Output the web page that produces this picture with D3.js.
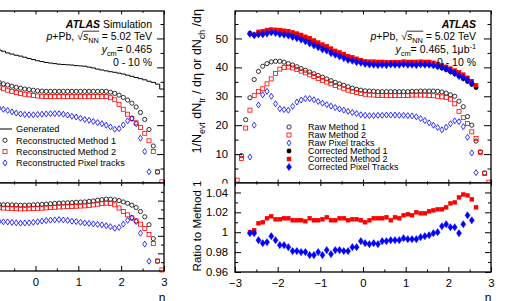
<!DOCTYPE html>
<html>
<head>
<meta charset="utf-8">
<script src="https://cdn.jsdelivr.net/npm/d3@7"></script>
<style>
body { margin: 0; background: #fff; }
svg { display: block; font-family: "Liberation Sans", Arial, Helvetica, sans-serif; }
</style>
</head>
<body>
<svg id="chart" width="506" height="301"></svg>
<script>
// eta bin centres (bin width 0.1)
var etaBins = [-2.95,-2.85,-2.75,-2.65,-2.55,-2.45,-2.35,-2.25,-2.15,-2.05,
  -1.95,-1.85,-1.75,-1.65,-1.55,-1.45,-1.35,-1.25,-1.15,-1.05,
  -0.95,-0.85,-0.75,-0.65,-0.55,-0.45,-0.35,-0.25,-0.15,-0.05,
  0.05,0.15,0.25,0.35,0.45,0.55,0.65,0.75,0.85,0.95,
  1.05,1.15,1.25,1.35,1.45,1.55,1.65,1.75,1.85,1.95,
  2.05,2.15,2.25,2.35,2.45,2.55,2.65,2.75,2.85,2.95];

// ---- right pad: data ----
var rawM1 = [null,9.5,21.9,29.5,35.8,38.6,40.4,41.3,41.9,42.1,
  42.1,41.8,41.3,40.8,40.2,39.6,39.0,38.4,37.8,37.2,
  36.6,36.0,35.4,34.8,34.3,33.8,33.3,32.8,32.4,32.1,
  31.9,31.8,31.7,31.6,31.6,31.6,31.6,31.6,31.6,31.6,
  31.6,31.7,31.7,31.8,31.8,31.8,31.8,31.7,31.5,31.1,
  30.5,30.0,28.3,26.4,23.0,20.0,14.5,10.8,3.5,null];
var rawM2 = [1.0,8.5,19.0,25.2,30.2,31.6,32.6,34.3,36.0,37.9,
  39.4,40.0,40.1,39.8,39.3,38.7,38.1,37.4,36.8,36.1,
  35.5,34.9,34.3,33.7,33.2,32.6,32.1,31.7,31.3,31.0,
  30.7,30.5,30.4,30.3,30.3,30.2,30.3,30.2,30.3,30.3,
  30.3,30.4,30.4,30.4,30.4,30.3,30.2,30.0,29.8,29.6,
  29.0,27.4,24.8,22.6,20.6,17.7,15.4,10.6,3.3,0.3];
var rawPix = [null,null,null,9.0,20.0,27.0,30.5,31.7,30.0,27.4,
  25.7,25.4,25.2,26.5,28.0,28.7,29.2,29.2,28.8,28.2,
  27.6,27.1,26.6,26.1,25.6,25.2,24.8,24.4,24.0,23.6,
  23.4,23.3,23.3,23.4,23.4,23.5,23.5,23.5,23.4,23.4,
  23.3,23.2,22.9,22.3,21.6,20.8,20.0,19.2,18.4,19.3,
  20.5,21.5,21.2,19.5,15.8,10.4,3.6,null,null,null];
var corrM1 = [null,null,null,51.7,51.2,51.8,52.0,52.2,52.3,52.3,
  52.2,52.0,51.8,51.5,51.1,50.6,50.0,49.4,48.7,48.0,
  47.3,46.6,45.9,45.2,44.6,44.0,43.4,42.9,42.4,42.0,
  41.7,41.5,41.4,41.3,41.3,41.2,41.3,41.2,41.2,41.3,
  41.2,41.2,41.1,41.2,41.1,41.0,40.7,40.3,39.8,39.2,
  38.5,37.8,37.0,36.1,35.1,34.1,33.0,null,null,null];
var corrM2 = [null,null,null,51.7,51.3,52.3,52.5,52.9,53.1,53.0,
  52.9,52.7,52.5,52.1,51.7,51.2,50.6,50.1,49.3,48.6,
  47.9,47.3,46.5,45.7,45.2,44.6,43.9,43.5,43.0,42.5,
  42.1,42.0,42.0,41.9,41.9,41.8,41.8,41.8,41.8,42.0,
  41.9,41.9,41.9,42.0,41.9,41.9,41.6,41.2,40.7,40.2,
  39.6,38.9,38.3,37.5,36.4,35.2,33.8,null,null,null];
var corrPix = [null,null,null,51.6,51.1,51.4,51.4,51.7,52.1,51.9,
  51.5,51.3,51.0,50.5,50.1,49.6,49.0,48.3,47.6,47.0,
  46.2,45.8,44.9,44.4,43.8,43.2,42.6,42.3,41.8,41.6,
  41.2,41.0,40.9,40.8,40.9,40.8,41.0,40.9,40.9,41.1,
  40.9,40.9,40.8,41.0,40.9,40.9,40.7,40.3,40.0,39.5,
  38.7,38.0,37.0,36.4,35.7,34.5,null,null,null,null];
var ratioM2 = [null,null,null,1.000,1.002,1.009,1.010,1.014,1.016,1.013,
  1.013,1.014,1.014,1.012,1.012,1.012,1.011,1.014,1.012,1.012,
  1.013,1.015,1.012,1.012,1.014,1.014,1.012,1.013,1.013,1.012,
  1.010,1.012,1.014,1.014,1.014,1.015,1.012,1.015,1.014,1.017,
  1.018,1.017,1.020,1.019,1.019,1.021,1.022,1.023,1.023,1.025,
  1.029,1.030,1.035,1.038,1.037,1.033,1.025,null,null,null];
var ratioPix = [null,null,null,0.999,0.999,0.992,0.989,0.990,0.996,0.992,
  0.987,0.987,0.985,0.981,0.981,0.980,0.980,0.977,0.977,0.980,
  0.977,0.982,0.978,0.982,0.982,0.981,0.981,0.985,0.985,0.991,
  0.989,0.988,0.989,0.988,0.991,0.991,0.992,0.992,0.992,0.994,
  0.993,0.993,0.993,0.995,0.996,0.997,0.999,1.000,1.006,1.008,
  1.005,1.005,0.999,1.008,1.017,1.012,null,null,null,null];

// ---- left pad (simulation): data ----
var genL = [null,null,null,null,null,null,null,null,null,null,
  null,null,null,null,null,null,null,null,null,null,
  46.4,46.0,45.6,45.0,44.6,44.2,43.9,43.5,43.1,42.7,
  42.3,42.0,41.7,41.5,41.3,41.1,41.0,40.9,40.8,40.6,
  40.5,40.4,40.1,39.8,39.4,39.1,38.8,38.5,38.3,38.0,
  37.7,37.3,36.9,36.5,36.1,35.7,35.2,34.8,34.2,32.5];
var recM1L = [null,null,null,null,null,null,null,null,null,null,
  null,null,null,null,null,null,null,null,null,null,
  35.2,34.8,34.3,33.9,33.5,33.1,32.8,32.5,32.3,32.1,
  31.9,31.8,31.7,31.7,31.7,31.7,31.7,31.7,31.7,31.7,
  31.7,31.7,31.7,31.7,31.7,31.7,31.7,31.4,31.0,30.4,
  29.6,28.7,27.6,26.3,24.4,22.0,18.5,12.8,3.8,null];
var recM2L = [null,null,null,null,null,null,null,null,null,null,
  null,null,null,null,null,null,null,null,null,null,
  33.6,33.1,32.6,32.1,31.7,31.3,31.0,30.7,30.5,30.3,
  30.1,30.0,29.9,29.9,29.9,29.9,29.9,29.9,29.9,29.9,
  29.9,29.9,29.9,29.9,29.9,29.9,29.9,29.5,28.8,27.2,
  25.5,23.8,22.3,20.8,19.2,17.2,14.6,10.9,3.9,0.4];
var recPixL = [null,null,null,null,null,null,null,null,null,null,
  null,null,null,null,null,null,null,null,null,null,
  26.2,25.9,25.5,25.1,24.6,24.2,23.9,23.7,23.6,23.6,
  23.7,23.8,23.9,24.0,24.0,24.0,23.8,23.5,23.1,22.8,
  22.4,22.0,21.7,21.3,20.9,20.5,20.0,19.4,18.6,18.8,
  20.1,21.5,22.3,20.5,15.5,10.9,3.9,null,null,null];
var effM1L = [null,null,null,null,null,null,null,null,null,null,
  null,null,null,null,null,null,null,null,null,null,
  0.759,0.757,0.752,0.753,0.751,0.749,0.747,0.747,0.749,0.752,
  0.754,0.757,0.760,0.764,0.768,0.771,0.773,0.775,0.777,0.781,
  0.783,0.785,0.791,0.796,0.805,0.811,0.817,0.816,0.809,0.800,
  0.785,0.769,0.748,0.721,0.676,0.616,0.526,0.368,0.111,null];
var effM2L = [null,null,null,null,null,null,null,null,null,null,
  null,null,null,null,null,null,null,null,null,null,
  0.724,0.720,0.715,0.713,0.711,0.708,0.706,0.706,0.708,0.710,
  0.712,0.714,0.717,0.720,0.724,0.727,0.729,0.731,0.733,0.736,
  0.738,0.740,0.746,0.751,0.759,0.765,0.771,0.766,0.752,0.716,
  0.676,0.638,0.604,0.570,0.532,0.482,0.415,0.313,0.114,0.012];
var effPixL = [null,null,null,null,null,null,null,null,null,null,
  null,null,null,null,null,null,null,null,null,null,
  0.565,0.563,0.559,0.558,0.552,0.548,0.544,0.545,0.548,0.553,
  0.560,0.567,0.573,0.578,0.581,0.584,0.580,0.575,0.566,0.562,
  0.553,0.545,0.541,0.535,0.530,0.524,0.515,0.504,0.486,0.495,
  0.533,0.576,0.604,0.562,0.429,0.305,0.111,null,null,null];

// ticks
var xMajor = [-3,-2,-1,0,1,2,3];
var xLabels = ["\u22123","\u22122","\u22121","0","1","2","3"];
var xLabelsLeft = ["","","","0","1","2","3"]; // negative labels lie outside the picture
var xMinor = [-2.5,-1.5,-0.5,0.5,1.5,2.5];
var yMajor = [0,10,20,30,40,50];
var yLabels = ["0","10","20","30","40","50"];
var yMinor = [5,15,25,35,45,55];
var rMajor = [0.96,0.98,1,1.02,1.04];
var rLabels = ["0.96","0.98","1","1.02","1.04"];
var rMinor = [0.97,0.99,1.01,1.03];
var eMajor = [0.2,0.4,0.6,0.8];
var eMinor = [0.1,0.3,0.5,0.7,0.9];

var legendRight = ["Raw Method 1","Raw Method 2","Raw Pixel tracks",
  "Corrected Method 1","Corrected Method 2","Corrected Pixel Tracks"];
var legendLeft = ["Generated","Reconstructed Method 1","Reconstructed Method 2","Reconstructed Pixel tracks"];

var RED = "#ff0000", BLUE = "#0000ff";

var svg = d3.select("#chart");

// scales
var xR = d3.scaleLinear().domain([-3,3]).range([235,491]);
var yRU = d3.scaleLinear().domain([0,59.5]).range([183,11]);
var yRL = d3.scaleLinear().domain([0.96,1.0495]).range([272,183]);
var xL = d3.scaleLinear().domain([-3,3]).range([-93,164]);
var yLU = d3.scaleLinear().domain([0,59.5]).range([183,11]);
var yLL = d3.scaleLinear().domain([0,1]).range([271,183]);

function axisAt(orient, scale, pos, values, size, labels, pad) {
  var mk = {bottom:d3.axisBottom, top:d3.axisTop, left:d3.axisLeft, right:d3.axisRight}[orient];
  var ax = mk(scale).tickValues(values).tickSizeInner(-size).tickSizeOuter(0).tickPadding(pad || 3);
  if (labels) ax.tickFormat(function(d,i){ return labels[i]; }); else ax.tickFormat("");
  var tr = (orient=="bottom"||orient=="top") ? "translate(0,"+pos+")" : "translate("+pos+",0)";
  var g = svg.append("g").attr("transform", tr).call(ax);
  g.select(".domain").remove();
  g.attr("font-family", null).attr("font-size", 11.3);
  g.selectAll("line").attr("stroke", "#000");
  g.selectAll("text").attr("fill", "#000");
  if (!labels) g.selectAll("text").remove();
  return g;
}

function pad(x, y, x0, x1, y0, y1, yMaj, yMin, yLab, ySz, xSz, xLab, topTicks) {
  svg.append("rect").attr("x", x0).attr("y", y0).attr("width", x1-x0).attr("height", y1-y0)
    .attr("fill", "#fff");
  axisAt("left", y, x0, yMaj, ySz, yLab, 7);
  axisAt("left", y, x0, yMin, ySz/2);
  axisAt("right", y, x1, yMaj, ySz);
  axisAt("right", y, x1, yMin, ySz/2);
  axisAt("bottom", x, y1, xMajor, xSz, xLab, 7);
  axisAt("bottom", x, y1, xMinor, xSz/2);
  if (topTicks) {
    axisAt("top", x, y0, xMajor, topTicks);
    axisAt("top", x, y0, xMinor, topTicks/2);
  }
}

function frame(x0, x1, y0, y1) {
  svg.append("rect").attr("x", x0).attr("y", y0).attr("width", x1-x0).attr("height", y1-y0)
    .attr("fill", "none").attr("stroke", "#000").attr("stroke-width", 1.3);
}

function marker(g, kind, cx, cy, color) {
  if (kind == "oc") {
    g.append("circle").attr("cx", cx).attr("cy", cy).attr("r", 2.1)
      .attr("fill", "none").attr("stroke", "#000").attr("stroke-width", 0.8);
  } else if (kind == "fc") {
    g.append("circle").attr("cx", cx).attr("cy", cy).attr("r", 2.4).attr("fill", "#000");
  } else if (kind == "os") {
    g.append("rect").attr("x", cx-2).attr("y", cy-2).attr("width", 4).attr("height", 4)
      .attr("fill", "none").attr("stroke", color).attr("stroke-width", 0.8);
  } else if (kind == "fs") {
    g.append("rect").attr("x", cx-2.2).attr("y", cy-2.2).attr("width", 4.4).attr("height", 4.4)
      .attr("fill", color);
  } else if (kind == "od" || kind == "fd") {
    var w = kind == "od" ? 2.0 : 2.5, h = kind == "od" ? 3.0 : 3.6;
    g.append("path").attr("d", "M"+cx+","+(cy-h)+"L"+(cx+w)+","+cy+"L"+cx+","+(cy+h)+"L"+(cx-w)+","+cy+"Z")
      .attr("fill", kind == "fd" ? color : "none").attr("stroke", color)
      .attr("stroke-width", kind == "fd" ? 0.5 : 0.8);
  }
}

function series(x, y, vals, kind, color) {
  var g = svg.append("g");
  etaBins.forEach(function(e, i) {
    if (vals[i] == null) return;
    marker(g, kind, x(e), y(vals[i]), color);
  });
}

function rich(sel, segs, fs) {
  var shift = 0;
  segs.forEach(function(s) {
    var ts = sel.append("tspan").text(s.t);
    var target = s.sub ? fs*0.3 : (s.sup ? -fs*0.4 : 0);
    if (target != shift) { ts.attr("dy", target - shift); shift = target; }
    if (s.sub || s.sup) ts.attr("font-size", fs*0.7);
    if (s.it) ts.attr("font-style", "italic");
    if (s.b) ts.attr("font-weight", "bold");
    if (s.cls) ts.attr("class", s.cls);
  });
}

function header(x, lines) {
  var fs = 10.5;
  lines.forEach(function(ln) {
    var t = svg.append("text").attr("x", x).attr("y", ln.y).attr("text-anchor", "end")
      .attr("font-size", fs);
    rich(t, ln.segs, fs);
    var a = t.select(".rad"), b = t.select(".radend");
    if (!a.empty()) {
      var ba = a.node().getBBox(), bb = b.node().getBBox();
      svg.append("line").attr("x1", ba.x + ba.width - 0.5).attr("x2", bb.x + bb.width + 0.5)
        .attr("y1", ba.y + 1.2).attr("y2", ba.y + 1.2).attr("stroke", "#000").attr("stroke-width", 0.8);
    }
  });
}

// ================= left pad =================
pad(xL, yLU, -93, 164, 11, 183, yMajor, yMinor, null, 7, 3.5, null, 3.5);
var genSteps = [];
etaBins.forEach(function(e, i) {
  if (genL[i] == null) return;
  genSteps.push([e - 0.05, genL[i]]);
  if (i == etaBins.length - 1) genSteps.push([e + 0.05, genL[i]]);
});
svg.append("path").datum(genSteps)
  .attr("d", d3.line().x(function(d){return xL(d[0]);}).y(function(d){return yLU(d[1]);}).curve(d3.curveStepAfter))
  .attr("fill", "none").attr("stroke", "#000").attr("stroke-width", 1);
series(xL, yLU, recM1L, "oc", "#000");
series(xL, yLU, recM2L, "os", RED);
series(xL, yLU, recPixL, "od", BLUE);
frame(-93, 164, 11, 183);

pad(xL, yLL, -93, 164, 183, 271, eMajor, eMinor, null, 6, 5, xLabelsLeft, 3);
series(xL, yLL, effM1L, "oc", "#000");
series(xL, yLL, effM2L, "os", RED);
series(xL, yLL, effPixL, "od", BLUE);
frame(-93, 164, 183, 271);

header(152, [
  {y: 28, segs: [{t:"ATLAS", b:1, it:1}, {t:" Simulation"}]},
  {y: 40, segs: [{t:"p", it:1}, {t:"+Pb, \u221a", cls:"rad"}, {t:"s", it:1}, {t:"NN", sub:1, cls:"radend"}, {t:" = 5.02 TeV"}]},
  {y: 53, segs: [{t:"y", it:1}, {t:"cm", sub:1}, {t:"= 0.465"}]},
  {y: 66, segs: [{t:"0 - 10 %"}]}
]);

// left legend
var lgL = svg.append("g").attr("font-size", 9.2);
legendLeft.forEach(function(name, i) {
  var yy = 129 + i*11.3;
  if (i == 0) lgL.append("line").attr("x1", 0).attr("x2", 12).attr("y1", yy).attr("y2", yy).attr("stroke", "#000");
  else marker(lgL, ["oc","os","od"][i-1], 5, yy, [null, RED, BLUE][i-1] || "#000");
  lgL.append("text").attr("x", 16).attr("y", yy + 3.3).text(name);
});

svg.append("text").attr("x", 162).attr("y", 302).attr("text-anchor", "middle").attr("font-size", 12).text("\u03b7");

// ================= right pad =================
pad(xR, yRU, 235, 491, 11, 183, yMajor, yMinor, yLabels, 7, 3.5, null, 3.5);
series(xR, yRU, rawM1, "oc", "#000");
series(xR, yRU, rawM2, "os", RED);
series(xR, yRU, rawPix, "od", BLUE);
series(xR, yRU, corrM1, "fc", "#000");
series(xR, yRU, corrM2, "fs", RED);
series(xR, yRU, corrPix, "fd", BLUE);
frame(235, 491, 11, 183);

// lower pad hides the lower half of the upper "0" label
svg.append("rect").attr("x", 170).attr("y", 183.6).attr("width", 336).attr("height", 118).attr("fill", "#fff");
pad(xR, yRL, 235, 491, 183, 272, rMajor, rMinor, rLabels, 6, 5, xLabels, 3);
series(xR, yRL, ratioM2, "fs", RED);
series(xR, yRL, ratioPix, "fd", BLUE);
frame(235, 491, 183, 272);

header(476, [
  {y: 28, segs: [{t:"ATLAS", b:1, it:1}]},
  {y: 40, segs: [{t:"p", it:1}, {t:"+Pb, \u221a", cls:"rad"}, {t:"s", it:1}, {t:"NN", sub:1, cls:"radend"}, {t:" = 5.02 TeV"}]},
  {y: 53, segs: [{t:"y", it:1}, {t:"cm", sub:1}, {t:"= 0.465, 1\u03bcb"}, {t:"-1", sup:1}]},
  {y: 66, segs: [{t:"0 - 10 %"}]}
]);

// right legend
var lgR = svg.append("g").attr("font-size", 9);
var lgKinds = ["oc","os","od","fc","fs","fd"];
var lgCols = ["#000", RED, BLUE, "#000", RED, BLUE];
legendRight.forEach(function(name, i) {
  var yy = 127 + i*8;
  marker(lgR, lgKinds[i], 289, yy, lgCols[i]);
  lgR.append("text").attr("x", 308).attr("y", yy + 3.2).text(name);
});

// axis titles
var yt = svg.append("text").attr("transform", "translate(201,9) rotate(-90)")
  .attr("text-anchor", "end").attr("font-size", 12.5);
rich(yt, [{t:"1/N"}, {t:"evt", sub:1}, {t:" dN"}, {t:"tr", sub:1}, {t:" / d\u03b7 or dN"}, {t:"ch", sub:1}, {t:" /d\u03b7"}], 12.5);

svg.append("text").attr("transform", "translate(201,226) rotate(-90)")
  .attr("text-anchor", "middle").attr("font-size", 11.5).text("Ratio to Method 1");

svg.append("text").attr("x", 488).attr("y", 302).attr("text-anchor", "middle").attr("font-size", 12).text("\u03b7");
</script>
</body>
</html>
